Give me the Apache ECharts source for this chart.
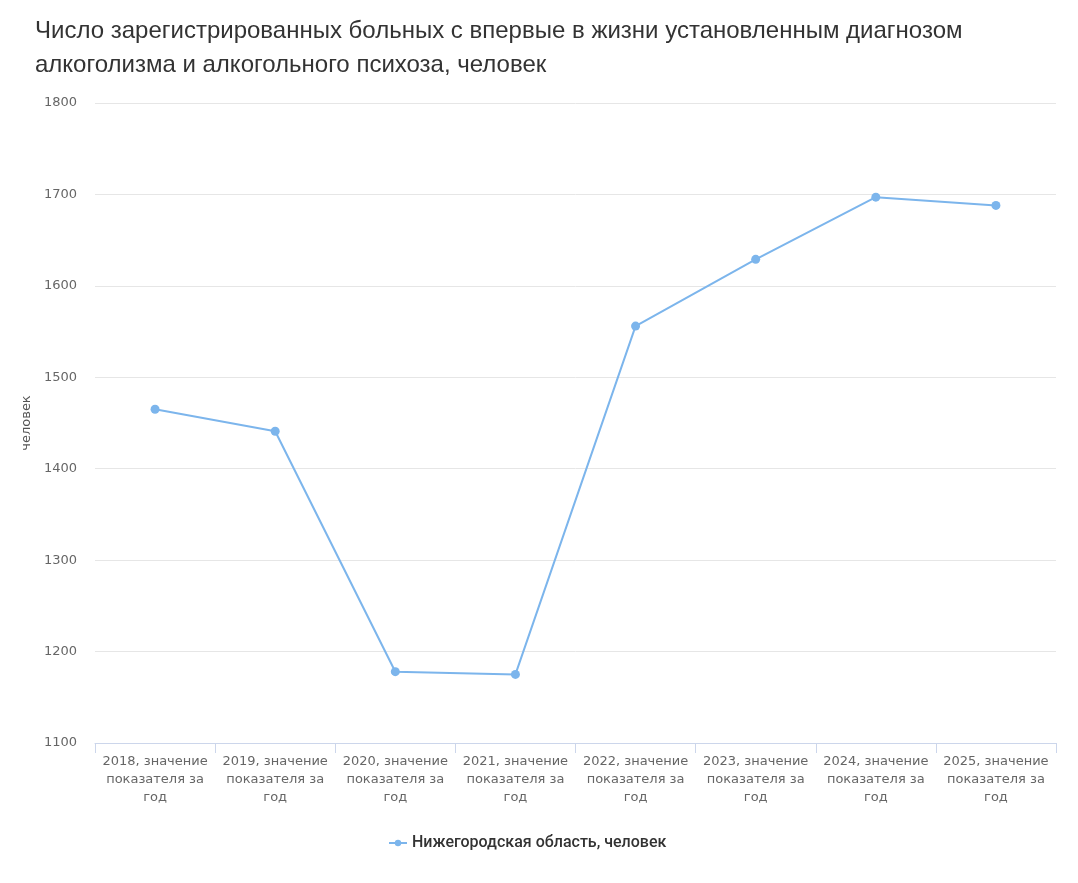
<!DOCTYPE html>
<html>
<head>
<meta charset="utf-8">
<style>
  html, body { margin: 0; padding: 0; background: #fff; }
  #chart { width: 1078px; height: 883px; }
</style>
<script src="https://cdn.jsdelivr.net/npm/echarts@6/dist/echarts.min.js"></script>
</head>
<body>
<div id="chart"></div>
<script>
  var categories = [
    '2018, значение\nпоказателя за\nгод',
    '2019, значение\nпоказателя за\nгод',
    '2020, значение\nпоказателя за\nгод',
    '2021, значение\nпоказателя за\nгод',
    '2022, значение\nпоказателя за\nгод',
    '2023, значение\nпоказателя за\nгод',
    '2024, значение\nпоказателя за\nгод',
    '2025, значение\nпоказателя за\nгод'
  ];
  var seriesName = 'Нижегородская область, человек';
  var values = [1465, 1441, 1178, 1175, 1556, 1629, 1697, 1688];

  var chart = echarts.init(document.getElementById('chart'));

  var option = {
    backgroundColor: '#fff',
    animation: false,
    title: {
      text: 'Число зарегистрированных больных с впервые в жизни установленным диагнозом\nалкоголизма и алкогольного психоза, человек',
      left: 30,
      top: 9,
      textStyle: {
        fontFamily: '"Liberation Sans", sans-serif',
        fontSize: 24,
        fontWeight: 'normal',
        color: '#333333',
        lineHeight: 34
      }
    },
    legend: {
      data: [seriesName],
      bottom: 27,
      left: 383,
      itemWidth: 18,
      itemHeight: 8,
      itemGap: 10,
      textStyle: {
        fontFamily: 'Roboto, sans-serif',
        fontSize: 16,
        fontWeight: 500,
        color: '#333333'
      }
    },
    grid: {
      left: 95,
      right: 22,
      top: 103,
      bottom: 140,
      containLabel: false
    },
    xAxis: {
      type: 'category',
      data: categories,
      boundaryGap: true,
      axisLine: { lineStyle: { color: '#ccd6eb', width: 1 } },
      axisTick: { show: true, length: 10, lineStyle: { color: '#ccd6eb' } },
      axisLabel: {
        interval: 0,
        margin: 10,
        fontFamily: '"DejaVu Sans", sans-serif',
        fontSize: 13,
        color: '#666666',
        lineHeight: 18
      }
    },
    yAxis: {
      type: 'value',
      min: 1100,
      max: 1800,
      interval: 100,
      name: 'человек',
      nameLocation: 'middle',
      nameGap: 56,
      nameTextStyle: {
        fontFamily: '"DejaVu Sans", sans-serif',
        fontSize: 13,
        color: '#555555'
      },
      axisLine: { show: false },
      axisTick: { show: false },
      axisLabel: {
        margin: 18,
        fontFamily: '"DejaVu Sans", sans-serif',
        fontSize: 13,
        color: '#666666',
        formatter: function(v) { return String(v); }
      },
      splitLine: { lineStyle: { color: '#e6e6e6', width: 1 } }
    },
    series: [{
      name: seriesName,
      type: 'line',
      data: values,
      color: '#7cb5ec',
      symbol: 'circle',
      symbolSize: 9,
      lineStyle: { width: 2, color: '#7cb5ec' },
      itemStyle: { color: '#7cb5ec' }
    }]
  };

  chart.setOption(option);
</script>
</body>
</html>
